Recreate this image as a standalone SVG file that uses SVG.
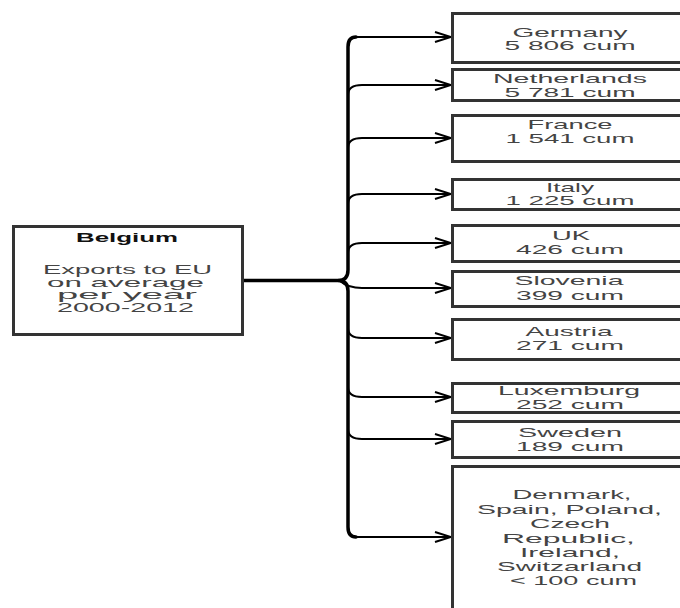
<svg xmlns="http://www.w3.org/2000/svg" width="680" height="608" viewBox="0 0 680 608">
<style>
.box{fill:#fff;stroke:#333;stroke-width:3}
.t{font-family:"Liberation Sans",Arial,sans-serif;font-size:13px;fill:#444;text-anchor:middle}
.l{font-size:12.2px}
.b{font-weight:bold;font-size:12px;fill:#111}
.br{fill:none;stroke:#000;stroke-width:3.5;stroke-linecap:round}
.ar{fill:none;stroke:#000;stroke-width:2}
</style>
<defs>
<marker id="ah" markerUnits="userSpaceOnUse" markerWidth="20" markerHeight="14" refX="17" refY="6" orient="auto">
<path d="M1,1 L17,6 L1,11" fill="none" stroke="#000" stroke-width="2"/>
</marker>
</defs>
<rect width="680" height="608" fill="#fff"/>
<g id="connectors">
<path class="br" d="M243,280.5 L338,280.5"/>
<path class="br" d="M356,37 Q348,37 348,47 L348,270 Q348,280.5 338,280.5 Q348,280.5 348,291 L348,527 Q348,537 356,537"/>
<path class="ar" d="M354,37 L451,37" marker-end="url(#ah)"/>
<path class="ar" d="M348,95 Q348,85 362,85 L451,85" marker-end="url(#ah)"/>
<path class="ar" d="M348,148 Q348,138 362,138 L451,138" marker-end="url(#ah)"/>
<path class="ar" d="M348,204 Q348,194 362,194 L451,194" marker-end="url(#ah)"/>
<path class="ar" d="M348,253 Q348,243 362,243 L451,243" marker-end="url(#ah)"/>
<path class="ar" d="M340,281 Q348,288 362,288 L451,288" marker-end="url(#ah)"/>
<path class="ar" d="M348,328 Q348,338 362,338 L451,338" marker-end="url(#ah)"/>
<path class="ar" d="M348,387 Q348,397 362,397 L451,397" marker-end="url(#ah)"/>
<path class="ar" d="M348,429 Q348,439 362,439 L451,439" marker-end="url(#ah)"/>
<path class="ar" d="M354,537 L451,537" marker-end="url(#ah)"/>
</g>
<g id="belgium">
<rect class="box" x="13.5" y="226.5" width="229" height="108"/>
<text class="t b" x="127" y="241.5" textLength="102" lengthAdjust="spacingAndGlyphs">Belgium</text>
<text class="t l" x="127.5" y="274" textLength="169" lengthAdjust="spacingAndGlyphs">Exports to EU</text>
<text class="t l" x="125.5" y="286.5" textLength="157" lengthAdjust="spacingAndGlyphs">on average</text>
<text class="t l" x="127" y="299" textLength="140" lengthAdjust="spacingAndGlyphs">per year</text>
<text class="t l" x="125.5" y="311.5" textLength="137" lengthAdjust="spacingAndGlyphs">2000-2012</text>
</g>
<g id="germany">
<rect class="box" x="452.5" y="13.5" width="240" height="49"/>
<text class="t" x="570" y="36.5" textLength="115" lengthAdjust="spacingAndGlyphs">Germany</text>
<text class="t" x="570" y="50" textLength="131" lengthAdjust="spacingAndGlyphs">5 806 cum</text>
</g>
<g id="netherlands">
<rect class="box" x="452.5" y="69.5" width="240" height="31"/>
<text class="t" x="570" y="83" textLength="154" lengthAdjust="spacingAndGlyphs">Netherlands</text>
<text class="t" x="570" y="96.5" textLength="131" lengthAdjust="spacingAndGlyphs">5 781 cum</text>
</g>
<g id="france">
<rect class="box" x="452.5" y="115.5" width="240" height="46"/>
<text class="t" x="570" y="128.5" textLength="85" lengthAdjust="spacingAndGlyphs">France</text>
<text class="t" x="570" y="142.5" textLength="129" lengthAdjust="spacingAndGlyphs">1 541 cum</text>
</g>
<g id="italy">
<rect class="box" x="452.5" y="179.5" width="240" height="30"/>
<text class="t" x="570" y="191.5" textLength="48" lengthAdjust="spacingAndGlyphs">Italy</text>
<text class="t" x="570" y="205" textLength="129" lengthAdjust="spacingAndGlyphs">1 225 cum</text>
</g>
<g id="uk">
<rect class="box" x="452.5" y="225.5" width="240" height="36"/>
<text class="t" x="571" y="240" textLength="38" lengthAdjust="spacingAndGlyphs">UK</text>
<text class="t" x="570" y="254" textLength="108" lengthAdjust="spacingAndGlyphs">426 cum</text>
</g>
<g id="slovenia">
<rect class="box" x="452.5" y="271.5" width="240" height="35"/>
<text class="t" x="569" y="285" textLength="109" lengthAdjust="spacingAndGlyphs">Slovenia</text>
<text class="t" x="570" y="299.5" textLength="108" lengthAdjust="spacingAndGlyphs">399 cum</text>
</g>
<g id="austria">
<rect class="box" x="452.5" y="319.5" width="240" height="40"/>
<text class="t" x="569" y="336" textLength="87" lengthAdjust="spacingAndGlyphs">Austria</text>
<text class="t" x="570" y="350" textLength="108" lengthAdjust="spacingAndGlyphs">271 cum</text>
</g>
<g id="luxemburg">
<rect class="box" x="452.5" y="383.5" width="240" height="29"/>
<text class="t" x="569" y="395" textLength="142" lengthAdjust="spacingAndGlyphs">Luxemburg</text>
<text class="t" x="570" y="409" textLength="108" lengthAdjust="spacingAndGlyphs">252 cum</text>
</g>
<g id="sweden">
<rect class="box" x="452.5" y="421.5" width="240" height="36"/>
<text class="t" x="570" y="437" textLength="104" lengthAdjust="spacingAndGlyphs">Sweden</text>
<text class="t" x="570" y="451" textLength="108" lengthAdjust="spacingAndGlyphs">189 cum</text>
</g>
<g id="others">
<rect class="box" x="452.5" y="466.5" width="240" height="160"/>
<text class="t" x="572" y="499" textLength="119" lengthAdjust="spacingAndGlyphs">Denmark,</text>
<text class="t" x="569.5" y="513.5" textLength="185" lengthAdjust="spacingAndGlyphs">Spain, Poland,</text>
<text class="t" x="570" y="528" textLength="80" lengthAdjust="spacingAndGlyphs">Czech</text>
<text class="t" x="568.5" y="542.5" textLength="133" lengthAdjust="spacingAndGlyphs">Republic,</text>
<text class="t" x="570" y="557" textLength="100" lengthAdjust="spacingAndGlyphs">Ireland,</text>
<text class="t" x="569.5" y="571" textLength="145" lengthAdjust="spacingAndGlyphs">Switzarland</text>
<text class="t" x="573.5" y="585" textLength="127" lengthAdjust="spacingAndGlyphs">&lt; 100 cum</text>
</g>
</svg>
